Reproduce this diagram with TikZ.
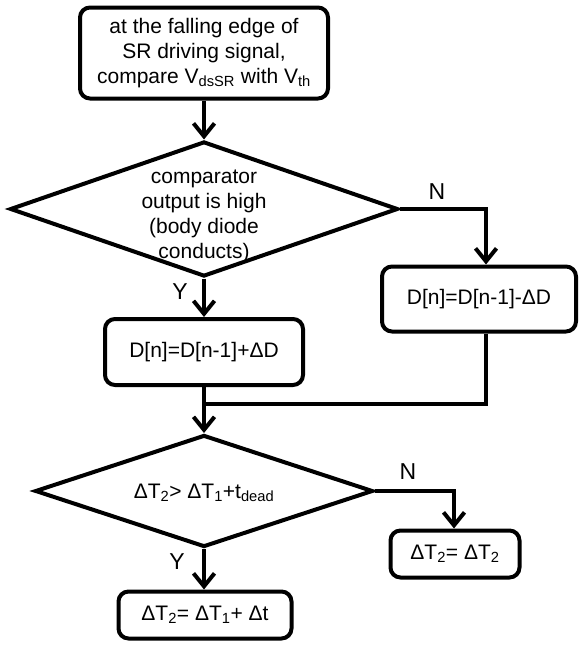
\documentclass[tikz,border=0pt]{standalone}
\usepackage{fontspec}
\setmainfont{Liberation Sans}
\usetikzlibrary{arrows.meta,shapes.geometric}
\tikzset{
  box/.style={draw, line width=4pt, rounded corners=10pt, align=center, inner sep=0pt, font=\fontsize{21}{25}\selectfont},
  dia/.style={draw, diamond, line width=4pt, inner sep=0pt},
  txt/.style={align=center, inner sep=0pt, font=\fontsize{21}{25}\selectfont},
  lab/.style={inner sep=0pt, font=\fontsize{23}{25}\selectfont},
  flow/.style={line width=4pt, -{Straight Barb[length=13pt,width=21pt]}},
  link/.style={line width=4pt},
}
\begin{document}
\begin{tikzpicture}[x=1pt,y=-1pt]
\useasboundingbox (0,0) rectangle (580,645);
\node[box, minimum width=248pt, minimum height=91pt] (start) at (204,53)
  {at the falling edge of\\SR driving signal,\\compare V\textsubscript{dsSR} with V\textsubscript{th}};
\node[dia, minimum width=388pt, minimum height=135pt] (d1) at (204,209) {};
\node[txt] (d1t) at (204,216) {comparator\\output is high\\(body diode\\conducts)};
\node[box, minimum width=198pt, minimum height=66pt] (lb) at (204,352) {D[n]=D[n-1]+ΔD};
\node[box, minimum width=194pt, minimum height=65pt] (rb1) at (479,299) {D[n]=D[n-1]-ΔD};
\node[dia, minimum width=338pt, minimum height=112pt] (d2) at (204,491) {};
\node[txt] (d2t) at (204,493) {ΔT\textsubscript{2}> ΔT\textsubscript{1}+t\textsubscript{dead}};
\node[box, minimum width=129pt, minimum height=47pt] (rb2) at (455,554) {ΔT\textsubscript{2}= ΔT\textsubscript{2}};
\node[box, minimum width=173pt, minimum height=47pt] (eb) at (205,615) {ΔT\textsubscript{2}= ΔT\textsubscript{1}+ Δt};
\coordinate (c1) at (486,209);
\coordinate (m) at (204,404);
\coordinate (c2) at (454,491);
\draw[flow] (start.south) -- (d1.north);
\draw[flow] (d1.south) -- (lb.north);
\draw[flow] (d1.east) -- (c1) -- (c1 |- rb1.north);
\draw[flow] (lb.south) -- (d2.north);
\draw[link] (rb1.south -| c1) -- (c1 |- m) -- (m);
\draw[flow] (d2.east) -- (c2) -- (c2 |- rb2.north);
\draw[flow] (d2.south) -- (d2.south |- eb.north);
\node[lab] (n1) at (437,192) {N};
\node[lab] (y1) at (180,292) {Y};
\node[lab] (n2) at (408,472) {N};
\node[lab] (y2) at (177,562) {Y};
\end{tikzpicture}
\end{document}
